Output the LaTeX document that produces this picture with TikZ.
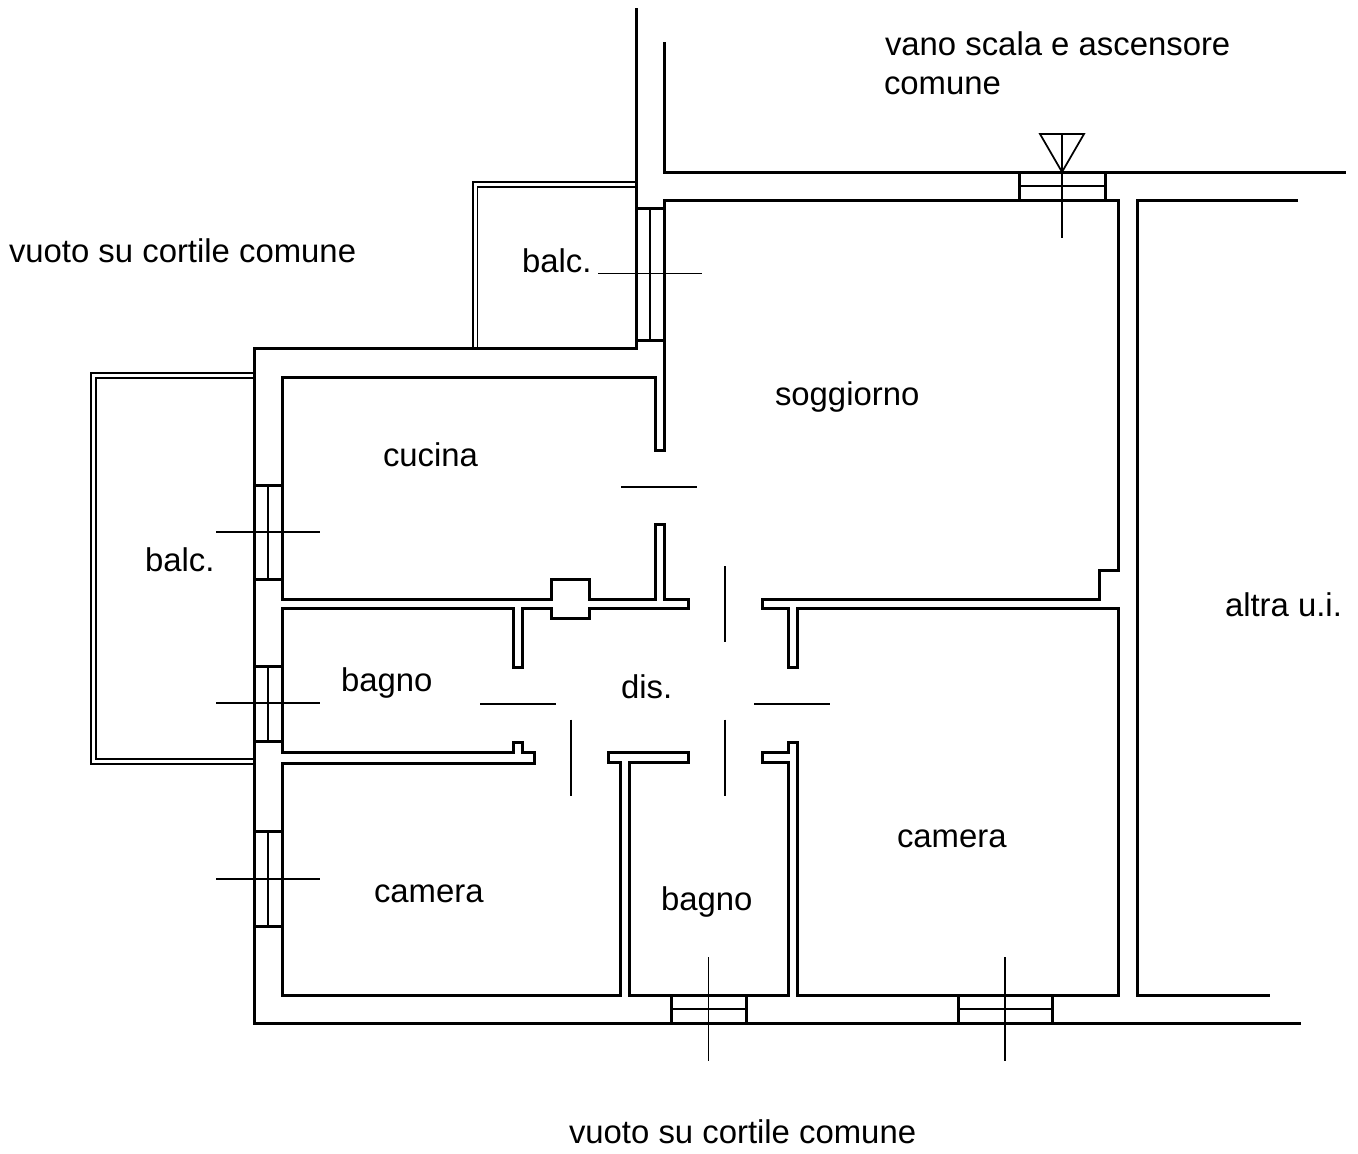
\documentclass[tikz,border=0pt]{standalone}
\usepackage{fontspec}
\setmainfont{Liberation Sans}
\tikzset{
  wall/.style={draw=black,line width=2.25pt,line join=miter,line cap=butt},
  thinl/.style={draw=black,line width=1.3pt,line cap=butt},
  rail/.style={draw=black,line width=1.4pt,line join=miter},
  lab/.style={anchor=base west,inner sep=0pt,outer sep=0pt,font=\fontsize{24.65pt}{28pt}\selectfont,text=black}
}
\begin{document}
\begin{tikzpicture}[x=0.75pt,y=-0.75pt]
\useasboundingbox (0,0) rectangle (1358,1153);
% outer shell
\draw[wall] (636,8) -- (636,208);
\draw[wall] (636,340) -- (636,348) -- (254,348) -- (254,1023) -- (1301,1023);
\draw[wall] (664,42) -- (664,172) -- (1346,172);
% main inner outline: soggiorno + cucina
\draw[wall] (664,208) -- (664,200) -- (1118,200) -- (1118,570) -- (1099,570) -- (1099,599) -- (762,599) -- (762,608) -- (788,608) -- (788,667) -- (797,667) -- (797,608) -- (1118,608) -- (1118,995) -- (797,995) -- (797,742) -- (788,742) -- (788,752) -- (762,752) -- (762,762) -- (788,762) -- (788,995) -- (629,995) -- (629,762) -- (688,762) -- (688,752) -- (608,752) -- (608,762) -- (620,762) -- (620,995) -- (282,995) -- (282,763) -- (534,763) -- (534,752) -- (522,752) -- (522,742) -- (513,742) -- (513,752) -- (282,752) -- (282,608) -- (513,608) -- (513,667) -- (522,667) -- (522,608) -- (551,608) -- (551,618) -- (589,618) -- (589,608) -- (688,608) -- (688,599) -- (664,599) -- (664,524) -- (655,524) -- (655,599) -- (589,599) -- (589,579) -- (551,579) -- (551,599) -- (282,599) -- (282,377) -- (655,377) -- (655,450) -- (664,450) -- (664,340);
\draw[wall] (664,208) -- (664,340);
% right unit
\draw[wall] (1298,200) -- (1137,200) -- (1137,995) -- (1270,995);
% balconies
\draw[rail] (473,348) -- (473,182) -- (636,182);
\draw[rail] (477.5,348) -- (477.5,187) -- (636,187);
\draw[rail] (254,373) -- (91,373) -- (91,764) -- (254,764);
\draw[rail] (254,378) -- (96,378) -- (96,759) -- (254,759);
% entrance
\draw[wall] (1019,172) -- (1019,200);
\draw[wall] (1105,172) -- (1105,200);
\draw[thinl] (1019,186) -- (1105,186);
\draw[thinl] (1062,134) -- (1062,238);
\draw[thinl,line join=miter] (1040,134) -- (1084,134) -- (1062,172) -- cycle;
% upper balcony window
\draw[wall] (636,208) -- (664,208);
\draw[wall] (636,340) -- (664,340);
\draw[wall] (636,208) -- (636,340);
\draw[thinl] (650,208) -- (650,340);
\draw[thinl] (598,273.5) -- (702,273.5);
% left windows
\foreach \ya/\yb/\ym in {485/579/532, 666/741/703, 831/926/879}{
  \draw[wall] (254,\ya) -- (282,\ya);
  \draw[wall] (254,\yb) -- (282,\yb);
  \draw[thinl] (268,\ya) -- (268,\yb);
  \draw[thinl] (216,\ym) -- (320,\ym);
}
% bottom windows
\foreach \xa/\xb/\xm in {671/746/708.5, 958/1052/1005}{
  \draw[wall] (\xa,995) -- (\xa,1023);
  \draw[wall] (\xb,995) -- (\xb,1023);
  \draw[thinl] (\xa,1009) -- (\xb,1009);
  \draw[thinl] (\xm,957) -- (\xm,1061);
}
% doors
\draw[thinl] (621,487) -- (697,487);
\draw[thinl] (725,566) -- (725,641.5);
\draw[thinl] (480,704) -- (556,704);
\draw[thinl] (571,719.5) -- (571,795.5);
\draw[thinl] (725,719.5) -- (725,795.5);
\draw[thinl] (754,704) -- (830,704);
% labels
\node[lab] (scala) at (885,55.5) {vano scala e ascensore};
\node[lab] (scalab) at (884,94.5) {comune};
\node[lab] (vuotoa) at (9,262.5) {vuoto su cortile comune};
\node[lab] (balca) at (522,272) {balc.};
\node[lab] (sogg) at (775,405.5) {soggiorno};
\node[lab] (cuc) at (383,466) {cucina};
\node[lab] (balcb) at (145,571) {balc.};
\node[lab] (bagnoa) at (341,691) {bagno};
\node[lab] (dis) at (621,698) {dis.};
\node[lab] (altra) at (1225,616) {altra u.i.};
\node[lab] (camb) at (897,847) {camera};
\node[lab] (cama) at (374,902) {camera};
\node[lab] (bagnob) at (661,910) {bagno};
\node[lab] (vuotob) at (569,1143.5) {vuoto su cortile comune};
\end{tikzpicture}
\end{document}
